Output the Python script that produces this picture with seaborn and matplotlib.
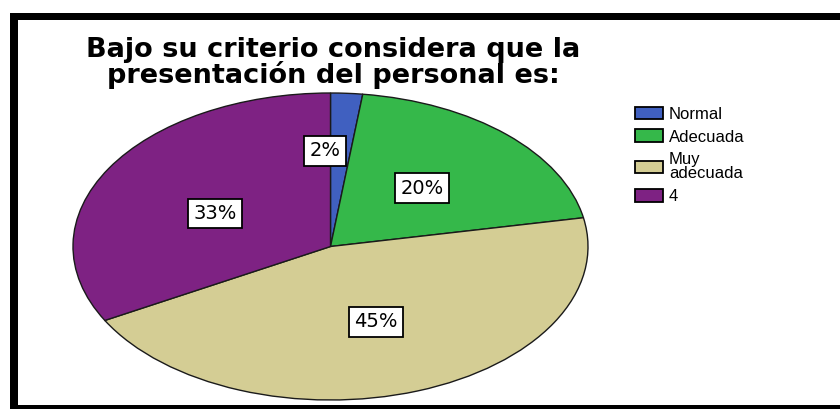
import matplotlib
matplotlib.use("Agg")
import matplotlib.pyplot as plt
import seaborn as sns
from matplotlib.patches import Rectangle, Patch

sns.set_theme(style="white")
plt.rcParams['font.family'] = ['Liberation Sans', 'DejaVu Sans']
plt.rcParams['text.color'] = 'black'

categories = ["Normal", "Adecuada", "Muy\nadecuada", "4"]
values = [2, 20, 45, 33]
colors = ["#4060c0", "#35b84a", "#d4cd94", "#7e2283"]
title = "Bajo su criterio considera que la\npresentación del personal es:"

W, H = 840, 409
fig = plt.figure(figsize=(W / 100, H / 100), dpi=100)
fig.patch.set_facecolor("white")

# pie axes (elliptical pie)
ax = fig.add_axes([73 / W, 1 - 400 / H, 515 / W, 307 / H])
wedges, texts, autotexts = ax.pie(
    values, colors=colors, startangle=90, counterclock=False,
    autopct=lambda p: f"{p:.0f}%", pctdistance=0.52,
    wedgeprops=dict(edgecolor="#1a1a1a", linewidth=1.0),
    textprops=dict(fontsize=14, color="black", family=["DejaVu Sans"]),
)
for t in autotexts:
    t.set_bbox(dict(boxstyle="square,pad=0.28", facecolor="white", edgecolor="black", linewidth=1.3))
# nudge the small slice label outward
x, y = autotexts[0].get_position()
autotexts[0].set_position((x * 1.2 - 0.06, y * 1.2))
x, y = autotexts[3].get_position()
autotexts[3].set_position((x, y - 0.05))
ax.set_xlim(-1.0, 1.0)
ax.set_ylim(-1.0, 1.0)
ax.set_aspect("auto")
ax.axis("off")

# title
fig.text(333 / W, 1 - 63 / H, title, ha="center", va="center",
         fontsize=19.5, fontweight="bold", linespacing=0.92,
         family=["DejaVu Sans"])

# legend
handles = [Patch(facecolor=c, edgecolor="black", linewidth=1.3) for c in colors]
leg = fig.legend(handles, categories, loc="upper left",
                 bbox_to_anchor=(628 / W, 1 - 100 / H), frameon=False,
                 prop=dict(size=12, family="Liberation Sans"),
                 handlelength=1.7, handleheight=0.8,
                 handletextpad=0.35, labelspacing=0.45, borderaxespad=0)
for t in leg.get_texts():
    t.set_linespacing(0.95)

# black frame
fig.add_artist(Rectangle((10 / W, 0), 8 / W, 1 - 13 / H, transform=fig.transFigure,
                         facecolor="black", edgecolor="none"))
fig.add_artist(Rectangle((10 / W, 1 - 20 / H), 1, 7 / H, transform=fig.transFigure,
                         facecolor="black", edgecolor="none"))
fig.add_artist(Rectangle((10 / W, 0), 1, 4 / H, transform=fig.transFigure,
                         facecolor="black", edgecolor="none"))

fig.savefig("out.png", dpi=100)
